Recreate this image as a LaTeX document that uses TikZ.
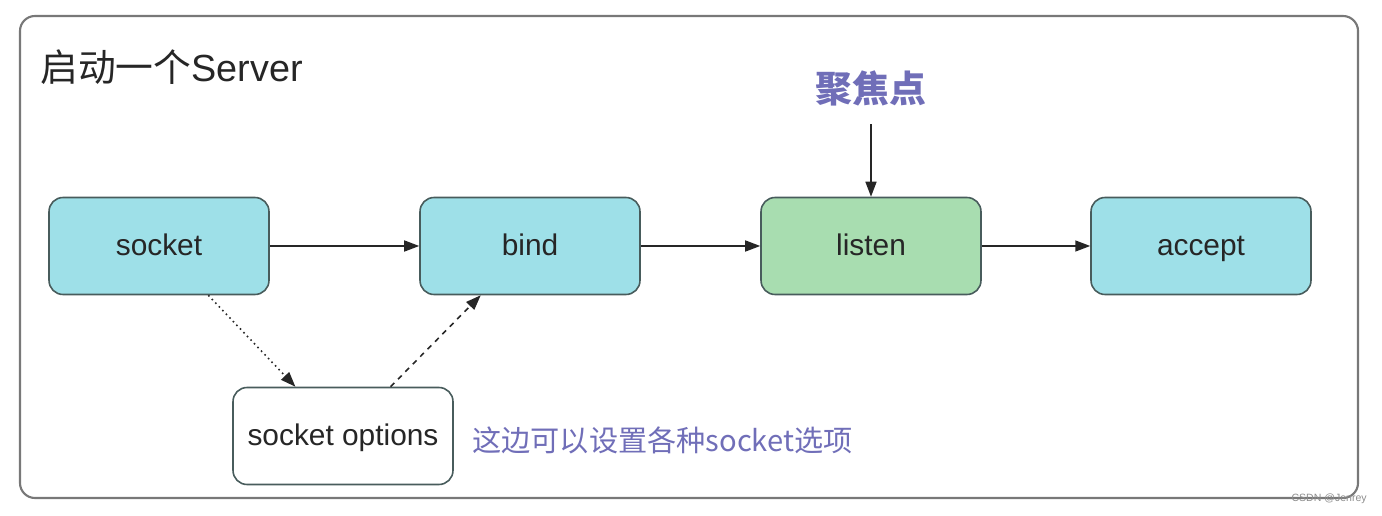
\documentclass[tikz,border=0pt]{standalone}
\usepackage{fontspec}
\setmainfont{Liberation Sans}
\newfontfamily\cjk{Noto Sans CJK SC}
\usetikzlibrary{arrows.meta}

\definecolor{boxcyan}{RGB}{158,224,232}
\definecolor{boxgreen}{RGB}{168,221,176}
\definecolor{boxline}{RGB}{72,92,92}
\definecolor{notepurple}{RGB}{112,110,184}
\definecolor{framegray}{RGB}{120,120,120}

\begin{document}
\begin{tikzpicture}[x=0.02cm, y=-0.02cm,
  every node/.style={font=\fontsize{17}{20}\selectfont, text=black!85},
  callbox/.style={draw=boxline, line width=0.9pt, rounded corners=0.28cm,
    minimum width=4.4cm, minimum height=1.94cm, fill=boxcyan,
    text height=12pt, text depth=1.5pt},
  flow/.style={-{Triangle[length=3mm,width=2.2mm]}, line width=0.9pt, black!85}]
  \useasboundingbox (0,0) rectangle (1382,516);

  % Outer frame
  \draw[framegray, line width=1.2pt, rounded corners=0.3cm] (20,16) rectangle (1358,498);
  \node[anchor=west, inner sep=0, font=\fontsize{21.5}{24}\selectfont] (title) at (40,67) {{\cjk 启动一个}Server};

  % Server calls
  \node[callbox] (socket) at (159,246) {socket};
  \node[callbox] (bind) at (530,246) {bind};
  \node[callbox, fill=boxgreen] (listen) at (871,246) {listen};
  \node[callbox] (accept) at (1201,246) {accept};
  \node[callbox, fill=white] (options) at (343,436) {socket options};

  \draw[flow] (socket) -- (bind);
  \draw[flow] (bind) -- (listen);
  \draw[flow] (listen) -- (accept);

  % Socket options detour
  \draw[flow, dotted] (socket.-45) -- (options.134);
  \draw[flow, dashed] (options.46) -- (bind.-135);

  % Focus point
  \node[text=notepurple, font=\cjk\bfseries\fontsize{21}{24}\selectfont] (focus) at (871,88) {聚焦点};
  \draw[flow, shorten <=2.5mm] (focus) -- (listen);

  \node[anchor=west, inner sep=0, text=notepurple, font=\cjk\fontsize{16.6}{20}\selectfont] (note) at (472,440) {这边可以设置各种socket选项};

  \node[anchor=east, inner sep=0, text=black!45, font=\fontsize{6}{7}\selectfont] (mark) at (1367,499) {CSDN @Jenrey};
\end{tikzpicture}
\end{document}
